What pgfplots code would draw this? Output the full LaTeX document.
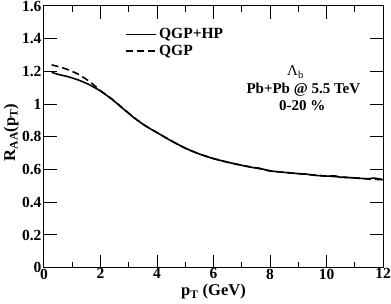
\documentclass[border=0pt]{standalone}
\usepackage{fontspec}
\setmainfont{Liberation Serif}
\usepackage{pgfplots}
\pgfplotsset{compat=1.18}
\usetikzlibrary{calc}
\begin{document}
\begin{tikzpicture}
\begin{axis}[name=ax,
  scale only axis, width=339pt, height=261.7pt,
  xmin=0, xmax=12, ymin=0, ymax=1.6,
  xtick={0,2,...,12}, minor x tick num=1,
  ytick={0,0.2,...,1.6},
  tick align=inside,
  major tick length=13pt, minor tick length=6pt,
  every tick/.style={black, line width=1pt},
  axis line style={line width=1pt},
  /pgf/number format/assume math mode=true,
  tick label style={font=\fontsize{15.5}{15.5}\selectfont\bfseries},
  xticklabel style={yshift=2.5pt},
  yticklabel style={xshift=1pt},
  xlabel={p\textsubscript{T} (GeV)},
  ylabel={R\textsubscript{AA}(p\textsubscript{T})},
  label style={font=\fontsize{16.5}{16.5}\selectfont\bfseries},
  xlabel style={at={(axis description cs:0.5,0)}, anchor=north, yshift=-13pt},
  ylabel style={at={(axis description cs:-0.097,0.517)}, anchor=center},
  legend style={draw=none, fill=none, at={(0.24,0.922)}, anchor=north west,
    font=\fontsize{15.5}{15.5}\selectfont\bfseries, inner sep=0pt, row sep=1pt},
  legend cell align=left,
  legend image code/.code={\draw[#1] (0pt,0pt) -- (30pt,0pt);},
]
\addplot[black, line width=1.6pt, smooth, tension=0.4] coordinates {
(0.27,1.195) (0.5,1.182) (0.8,1.170) (1.0,1.160) (1.3,1.142) (1.6,1.119)
(2.0,1.080) (2.4,1.030) (2.8,0.972) (3.2,0.915) (3.6,0.866) (4.0,0.826)
(4.5,0.776) (5.0,0.731) (5.5,0.695) (6.0,0.667) (6.5,0.645) (7.0,0.626)
(7.4,0.612) (7.6,0.609) (8.0,0.592) (8.5,0.583) (9.0,0.575) (9.3,0.572) (9.5,0.566)
(10.0,0.560) (10.3,0.561) (10.5,0.553) (11.0,0.549) (11.3,0.545) (11.5,0.544) (11.7,0.548) (12.0,0.538)};
\addlegendentry{QGP+HP}
\addplot[black, line width=1.6pt, dash pattern=on 7pt off 4pt, smooth, tension=0.4] coordinates {
(0.27,1.240) (0.5,1.230) (0.8,1.214) (1.0,1.200) (1.2,1.184) (1.4,1.163)
(1.6,1.140) (1.8,1.112) (2.0,1.082) (2.4,1.032) (2.8,0.974) (3.2,0.916)
(3.6,0.867) (4.0,0.826) (4.5,0.776) (5.0,0.731) (5.5,0.695) (6.0,0.667)
(6.5,0.645) (7.0,0.626) (7.5,0.610) (8.0,0.592) (8.5,0.583) (9.0,0.575)
(9.5,0.568) (10.0,0.560) (10.5,0.555) (11.0,0.549) (11.5,0.542) (12.0,0.538)};
\addlegendentry{QGP}
\node[font=\fontsize{15}{15}\selectfont] at (axis description cs:0.742,0.748) {Λ\textsubscript{b}};
\node[font=\fontsize{15}{15}\selectfont\bfseries] at (axis description cs:0.765,0.68) {Pb+Pb @ 5.5 TeV};
\node[font=\fontsize{15}{15}\selectfont\bfseries] at (axis description cs:0.762,0.618) {0-20 \%};
\end{axis}
\pgfresetboundingbox
\useasboundingbox ($(ax.south west)+(-44pt,-36.3pt)$) rectangle ($(ax.north east)+(8pt,6pt)$);
\end{tikzpicture}
\end{document}
